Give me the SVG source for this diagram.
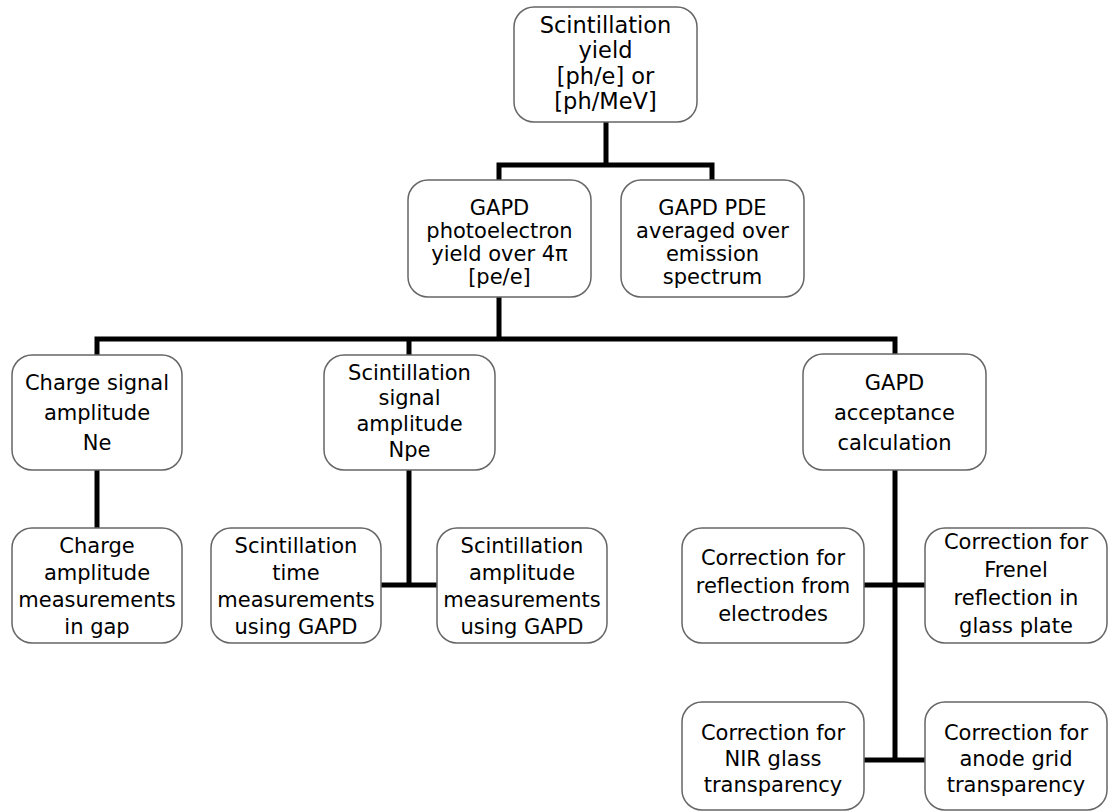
<svg xmlns="http://www.w3.org/2000/svg" width="1109" height="812" viewBox="0 0 1109 812">
<style>
.box{fill:#fff;stroke:#666;stroke-width:1.5}
.t{font-family:"DejaVu Sans","Liberation Sans",sans-serif;font-size:21px;fill:#000;text-anchor:middle}
.big{font-size:22.5px}
.c{fill:none;stroke:#000;stroke-width:5}
</style>
<rect width="1109" height="812" fill="#fff"/>
<g id="connectors">
<path class="c" d="M606 122V165M499 180V165H712V180"/>
<path class="c" d="M499 297V339M97 355V339H895V354M409 339V355"/>
<path class="c" d="M97 470V528"/>
<path class="c" d="M409 470V585M381 585H437"/>
<path class="c" d="M895 470V760M864 585H925M864 760H925"/>
</g>
<g id="n_yield">
<rect class="box" x="514" y="7" width="183" height="115" rx="20"/>
<text class="t big" x="605.5" y="33">Scintillation</text>
<text class="t big" x="605.5" y="58">yield</text>
<text class="t big" x="605.5" y="84">[ph/e] or</text>
<text class="t big" x="605.5" y="109">[ph/MeV]</text>
</g>
<g id="n_gapd_yield">
<rect class="box" x="408" y="180" width="183" height="117" rx="20"/>
<text class="t" x="499.5" y="215">GAPD</text>
<text class="t" x="499.5" y="238">photoelectron</text>
<text class="t" x="499.5" y="261">yield over 4π</text>
<text class="t" x="499.5" y="284">[pe/e]</text>
</g>
<g id="n_pde">
<rect class="box" x="621" y="180" width="183" height="117" rx="20"/>
<text class="t" x="712.5" y="215">GAPD PDE</text>
<text class="t" x="712.5" y="238">averaged over</text>
<text class="t" x="712.5" y="261">emission</text>
<text class="t" x="712.5" y="284">spectrum</text>
</g>
<g id="n_charge_signal">
<rect class="box" x="12" y="355" width="170" height="115" rx="20"/>
<text class="t" x="97" y="390">Charge signal</text>
<text class="t" x="97" y="420">amplitude</text>
<text class="t" x="97" y="450">Ne</text>
</g>
<g id="n_scint_signal">
<rect class="box" x="324" y="355" width="171" height="115" rx="20"/>
<text class="t" x="409.5" y="380">Scintillation</text>
<text class="t" x="409.5" y="405">signal</text>
<text class="t" x="409.5" y="431">amplitude</text>
<text class="t" x="409.5" y="457">Npe</text>
</g>
<g id="n_acceptance">
<rect class="box" x="803" y="354" width="183" height="116" rx="20"/>
<text class="t" x="894.5" y="390">GAPD</text>
<text class="t" x="894.5" y="420">acceptance</text>
<text class="t" x="894.5" y="450">calculation</text>
</g>
<g id="n_charge_amp">
<rect class="box" x="12" y="528" width="170" height="115" rx="20"/>
<text class="t" x="97" y="553">Charge</text>
<text class="t" x="97" y="580">amplitude</text>
<text class="t" x="97" y="607">measurements</text>
<text class="t" x="97" y="634">in gap</text>
</g>
<g id="n_scint_time">
<rect class="box" x="211" y="528" width="170" height="115" rx="20"/>
<text class="t" x="296" y="553">Scintillation</text>
<text class="t" x="296" y="580">time</text>
<text class="t" x="296" y="607">measurements</text>
<text class="t" x="296" y="634">using GAPD</text>
</g>
<g id="n_scint_amp">
<rect class="box" x="437" y="528" width="170" height="115" rx="20"/>
<text class="t" x="522" y="553">Scintillation</text>
<text class="t" x="522" y="580">amplitude</text>
<text class="t" x="522" y="607">measurements</text>
<text class="t" x="522" y="634">using GAPD</text>
</g>
<g id="n_reflection">
<rect class="box" x="682" y="528" width="182" height="115" rx="20"/>
<text class="t" x="773" y="565">Correction for</text>
<text class="t" x="773" y="593">reflection from</text>
<text class="t" x="773" y="621">electrodes</text>
</g>
<g id="n_frenel">
<rect class="box" x="925" y="528" width="182" height="115" rx="20"/>
<text class="t" x="1016" y="549">Correction for</text>
<text class="t" x="1016" y="577">Frenel</text>
<text class="t" x="1016" y="605">reflection in</text>
<text class="t" x="1016" y="633">glass plate</text>
</g>
<g id="n_nir">
<rect class="box" x="682" y="702" width="182" height="108" rx="20"/>
<text class="t" x="773" y="740">Correction for</text>
<text class="t" x="773" y="766">NIR glass</text>
<text class="t" x="773" y="792">transparency</text>
</g>
<g id="n_anode">
<rect class="box" x="925" y="702" width="182" height="108" rx="20"/>
<text class="t" x="1016" y="740">Correction for</text>
<text class="t" x="1016" y="766">anode grid</text>
<text class="t" x="1016" y="792">transparency</text>
</g>
</svg>
